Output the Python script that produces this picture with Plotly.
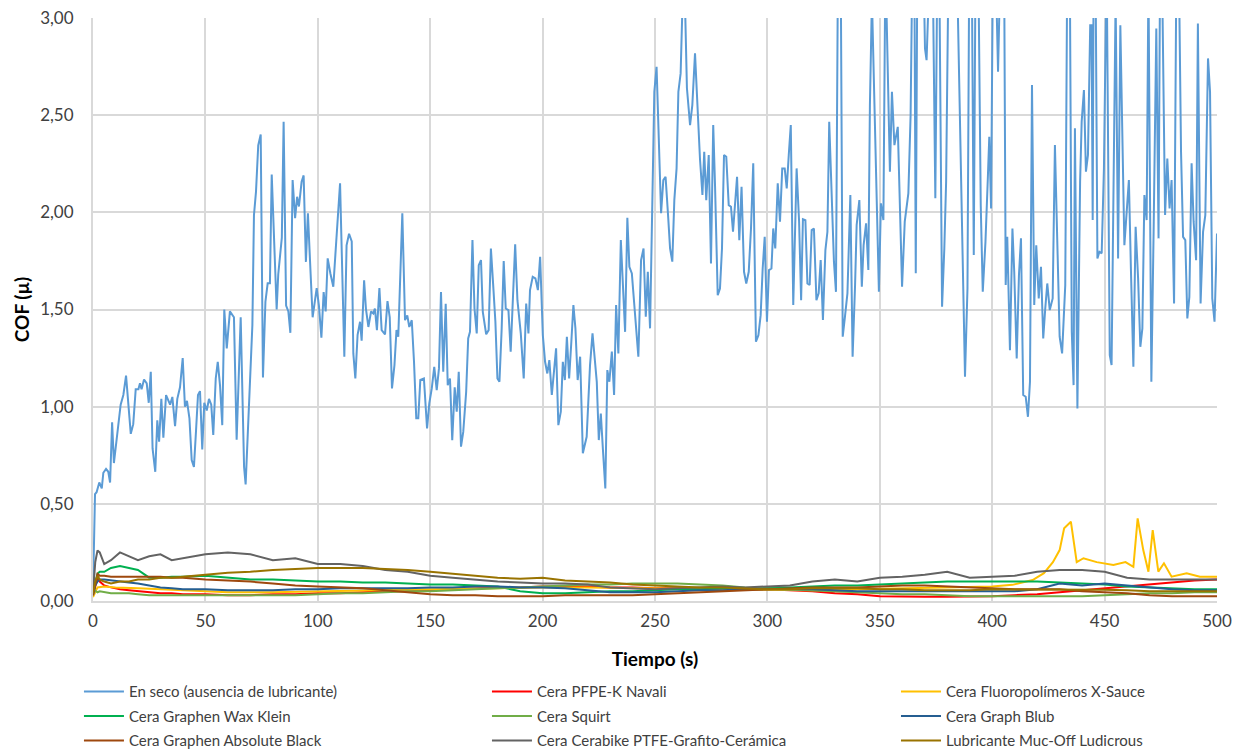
import plotly.graph_objects as go

# ---- Dry run (no lubricant) ----
t_seco = [0, 0.9, 1.6, 2.8, 3.9, 4.6, 5.8, 6.8, 7.6, 8.5, 9.3, 10.5, 12.3, 13.5, 14.7, 16.8, 17.9, 19.0, 20.2, 20.9,
          21.6, 22.7, 23.9, 24.8, 25.7, 26.5, 27.7, 28.6, 29.4, 30.4, 31.3, 32.5, 34.3, 35.3, 36.5, 37.5, 38.7, 39.9,
          40.9, 41.8, 42.9, 43.9, 44.9, 45.8, 46.7, 47.6, 48.6, 49.5, 50.6, 51.6, 52.6, 53.5, 54.6, 55.5, 56.5, 57.5,
          58.4, 59.5, 60.9, 62.7, 63.9, 65.7, 67.2, 67.9, 69.1, 69.8, 70.9, 71.6, 72.5, 73.5, 74.6, 75.6, 76.7, 77.7,
          78.7, 79.5, 80.5, 81.7, 82.4, 84.0, 84.8, 85.9, 86.9, 87.8, 88.8, 89.9, 90.8, 91.6, 92.8, 93.7, 94.7, 95.6,
          96.7, 97.7, 99.5, 100.5, 101.6, 102.6, 103.5, 104.4, 105.6, 106.9, 108.2, 109.9, 111.8, 112.8, 113.9, 115.1,
          115.8, 116.7, 117.7, 118.8, 119.5, 120.6, 121.4, 122.5, 123.7, 124.7, 125.4, 126.3, 127.4, 128.4, 129.9,
          131.0, 132.0, 133.0, 134.1, 135.0, 135.8, 137.6, 138.8, 139.8, 140.7, 141.8, 142.8, 143.8, 144.7, 145.6,
          147.2, 148.6, 149.6, 150.7, 151.8, 152.9, 153.9, 154.8, 155.8, 156.9, 157.8, 158.8, 159.8, 160.9, 161.8,
          162.7, 163.7, 164.7, 166.0, 166.9, 167.7, 168.8, 169.7, 170.7, 171.6, 172.6, 173.4, 174.9, 176.0, 177.0,
          178.1, 179.0, 179.9, 180.8, 181.8, 182.7, 183.6, 184.8, 185.8, 186.7, 187.8, 188.8, 190.3, 191.6, 192.7,
          193.7, 194.4, 195.6, 196.8, 197.9, 198.9, 200.1, 201.1, 202.1, 203.0, 204.1, 205.0, 206.0, 207.0, 208.1,
          209.0, 209.9, 210.8, 211.8, 212.7, 213.7, 214.6, 215.6, 216.7, 217.9, 219.6, 221.1, 222.2, 223.2, 224.1,
          225.0, 225.9, 226.8, 227.9, 228.8, 229.7, 230.8, 231.8, 232.7, 233.7, 234.8, 235.8, 236.7, 237.7, 238.6,
          239.7, 240.7, 241.6, 242.6, 243.8, 244.9, 245.9, 246.8, 247.8, 248.8, 249.7, 250.7, 251.8, 252.7, 253.7,
          254.7, 255.9, 256.7, 257.7, 258.6, 259.6, 260.4, 261.4, 262.3, 263.4, 264.2, 265.6, 266.6, 267.8, 269.0,
          270.0, 271.1, 271.9, 272.8, 273.9, 274.9, 275.9, 276.7, 277.9, 278.9, 279.8, 280.7, 281.7, 282.8, 283.8,
          284.7, 285.6, 286.5, 287.5, 288.5, 289.6, 290.6, 291.7, 292.7, 293.7, 294.9, 296.0, 297.0, 297.9, 298.8,
          299.8, 300.7, 301.8, 302.6, 303.5, 304.6, 305.6, 306.6, 307.7, 308.6, 309.5, 310.4, 311.5, 313.0, 314.1,
          315.0, 315.8, 316.9, 317.8, 318.8, 319.7, 320.7, 321.8, 322.8, 323.7, 324.7, 325.8, 326.7, 327.5, 328.6,
          329.6, 330.5, 331.4, 332.6, 333.5, 334.5, 335.6, 336.9, 337.9, 339.0, 339.7, 340.9, 342.0, 342.8, 343.9,
          344.9, 345.6, 346.5, 347.6, 348.6, 349.6, 350.5, 351.6, 352.5, 353.5, 354.5, 355.4, 356.5, 358.0, 359.0,
          359.9, 361.1, 362.7, 363.7, 364.6, 365.4, 366.0, 366.7, 369.7, 370.1, 370.8, 372.0, 373.5, 374.7, 375.6,
          376.5, 377.7, 378.7, 379.5, 380.5, 384.6, 387.9, 389.0, 389.8, 390.9, 391.8, 392.6, 393.8, 394.9, 395.8,
          397.0, 398.0, 398.7, 399.5, 400.2, 401.5, 402.6, 403.5, 405.4, 406.0, 406.7, 407.9, 409.0, 409.8, 410.9,
          411.9, 412.8, 413.8, 414.9, 415.9, 416.8, 417.7, 418.7, 419.6, 420.7, 421.7, 422.7, 423.6, 424.5, 425.6,
          426.9, 427.9, 429.0, 430.0, 431.1, 432.5, 433.4, 434.5, 435.4, 436.2, 436.8, 437.9, 439.1, 439.8, 440.8,
          441.7, 442.6, 443.6, 444.2, 444.7, 445.1, 446.0, 446.8, 447.7, 448.7, 449.7, 450.9, 452.3, 453.1, 454.0,
          454.9, 456.0, 457.0, 458.8, 459.8, 460.8, 461.7, 462.8, 463.8, 464.9, 465.9, 466.8, 467.7, 468.7, 469.5,
          470.8, 471.8, 473.0, 474.0, 474.6, 475.7, 476.9, 477.9, 478.9, 479.8, 480.9, 481.9, 483.1, 484.0, 484.9,
          485.9, 486.8, 487.7, 488.7, 489.6, 490.7, 491.5, 492.7, 493.8, 494.8, 496.0, 496.9, 497.9, 498.9, 500.0]
cof_seco = [0.05, 0.55, 0.56, 0.61, 0.58, 0.66, 0.68, 0.665, 0.61, 0.92, 0.71, 0.84, 1.01, 1.06, 1.16, 0.86, 0.91, 1.09,
            1.09, 1.12, 1.09, 1.14, 1.12, 1.02, 1.18, 0.785, 0.665, 0.93, 0.82, 1.04, 0.84, 1.06, 1.01, 1.05, 0.90,
            1.04, 1.10, 1.25, 1.00, 1.03, 0.94, 0.725, 0.69, 0.87, 1.06, 1.08, 0.78, 1.02, 0.98, 1.04, 1.01, 0.855,
            1.145, 1.23, 1.11, 0.905, 1.50, 1.30, 1.49, 1.46, 0.83, 1.46, 0.69, 0.60, 0.94, 1.20, 1.42, 1.985, 2.105,
            2.345, 2.40, 1.15, 1.54, 1.635, 1.635, 2.195, 1.90, 1.50, 1.68, 1.87, 2.466, 1.52, 1.49, 1.38, 2.166,
            1.97, 2.08, 2.03, 2.157, 2.19, 1.745, 1.995, 1.71, 1.46, 1.61, 1.52, 1.355, 1.59, 1.49, 1.763, 1.685,
            1.617, 1.85, 2.149, 1.257, 1.83, 1.89, 1.85, 1.274, 1.145, 1.37, 1.437, 1.34, 1.65, 1.505, 1.41, 1.49,
            1.48, 1.505, 1.394, 1.61, 1.394, 1.372, 1.543, 1.46, 1.094, 1.214, 1.394, 1.36, 1.995, 1.445, 1.47, 1.41,
            1.445, 1.231, 0.94, 0.94, 1.137, 1.145, 0.888, 1.017, 1.094, 1.205, 1.085, 1.197, 1.59, 1.18, 1.53, 1.11,
            1.145, 0.828, 1.10, 0.974, 1.18, 0.794, 0.87, 1.077, 1.351, 1.385, 1.857, 1.505, 1.377, 1.728, 1.754,
            1.488, 1.372, 1.394, 1.814, 1.61, 1.437, 1.145, 1.128, 1.403, 1.749, 1.505, 1.497, 1.283, 1.557, 1.835,
            1.548, 1.377, 1.145, 1.531, 1.377, 1.60, 1.668, 1.66, 1.60, 1.771, 1.368, 1.231, 1.171, 1.24, 1.06, 1.163,
            1.30, 0.905, 0.974, 1.231, 1.137, 1.36, 1.145, 1.317, 1.523, 1.403, 1.137, 1.257, 0.76, 0.845, 1.214,
            1.377, 1.231, 1.128, 0.828, 0.965, 0.785, 0.579, 1.188, 1.128, 1.283, 1.06, 1.523, 1.274, 1.857, 1.557,
            1.385, 1.972, 1.72, 1.686, 1.523, 1.428, 1.257, 1.754, 1.814, 1.463, 1.694, 1.403, 1.969, 2.62, 2.749,
            2.295, 1.995, 2.166, 2.183, 1.969, 1.814, 1.746, 2.063, 2.226, 2.62, 2.715, 3.10, 3.05, 2.64, 2.449, 2.552,
            2.818, 2.50, 2.277, 2.089, 2.312, 2.063, 2.295, 1.737, 2.449, 2.14, 1.574, 1.608, 1.814, 2.295, 2.286,
            2.037, 2.029, 1.90, 2.037, 2.183, 1.857, 2.132, 1.694, 1.634, 1.694, 1.917, 2.252, 1.334, 1.368, 1.471,
            1.711, 1.874, 1.437, 1.703, 1.711, 1.917, 1.814, 2.149, 1.952, 2.226, 2.226, 2.123, 2.295, 2.449, 1.523,
            2.226, 1.952, 1.548, 1.965, 1.96, 1.634, 1.626, 1.909, 1.917, 1.548, 1.583, 1.754, 1.446, 1.806, 1.90,
            2.466, 2.106, 1.746, 1.591, 3.30, 3.30, 1.36, 1.463, 1.583, 2.089, 1.257, 1.626, 1.934, 2.063, 1.617,
            1.831, 1.943, 1.703, 2.552, 3.10, 2.518, 2.037, 1.591, 2.046, 1.96, 3.30, 2.758, 2.209, 2.62, 2.346, 2.44,
            2.003, 1.617, 1.952, 2.097, 2.50, 3.40, 3.20, 1.686, 3.30, 3.10, 2.843, 2.783, 3.20, 3.30, 2.072, 3.30,
            3.20, 1.514, 1.814, 2.157, 3.20, 3.10, 1.154, 1.608, 3.30, 3.30, 1.78, 3.30, 3.30, 2.037, 1.591, 1.848,
            2.157, 2.389, 2.02, 3.10, 3.30, 2.723, 3.20, 3.05, 1.626, 1.874, 1.291, 1.917, 1.694, 1.248, 1.677, 1.866,
            1.06, 1.051, 0.948, 1.128, 2.655, 1.523, 1.831, 1.557, 1.72, 1.351, 1.505, 1.634, 1.497, 1.557, 2.346,
            1.754, 1.36, 1.274, 1.626, 3.30, 3.30, 1.385, 1.111, 2.432, 0.991, 2.157, 2.466, 2.629, 2.209, 2.295,
            2.963, 2.963, 1.96, 3.20, 3.20, 1.763, 1.797, 1.789, 2.226, 3.30, 1.265, 1.214, 2.192, 3.10, 1.763, 2.963,
            1.831, 1.986, 2.166, 1.711, 1.205, 1.926, 1.66, 1.308, 1.403, 2.089, 1.96, 3.20, 1.128, 1.90, 2.946,
            1.866, 3.10, 3.10, 1.986, 2.277, 2.02, 2.166, 1.531, 3.20, 3.20, 2.312, 1.874, 1.857, 1.454, 1.565, 2.252,
            1.952, 1.754, 2.972, 1.531, 1.90, 1.986, 2.792, 2.62, 1.557, 1.437, 1.891]

# ---- Lubricated runs (common time base) ----
t_lub = [0, 1, 2, 3, 5, 8, 12, 16, 20, 25, 30, 35, 40, 50, 60, 70, 80, 90, 100, 110, 120, 130, 140, 150, 160, 170,
         180, 190, 200, 210, 220, 230, 240, 250, 260, 270, 280, 290, 300, 310, 320, 330, 340, 350, 360, 370, 380,
         390, 400, 410, 420, 430, 440, 450, 460, 470, 480, 490, 500]

cof_pfpe = [0.03, 0.08, 0.12, 0.10, 0.08, 0.07, 0.06, 0.055, 0.05, 0.045, 0.04, 0.04, 0.035, 0.035, 0.03, 0.03, 0.035,
            0.035, 0.04, 0.04, 0.045, 0.05, 0.05, 0.055, 0.06, 0.065, 0.07, 0.07, 0.075, 0.075, 0.075, 0.07, 0.07,
            0.065, 0.065, 0.065, 0.065, 0.06, 0.06, 0.055, 0.05, 0.04, 0.035, 0.025, 0.022, 0.022, 0.022, 0.022,
            0.025, 0.03, 0.035, 0.045, 0.055, 0.065, 0.075, 0.085, 0.095, 0.105, 0.11]

cof_klein = [0.04, 0.10, 0.14, 0.15, 0.15, 0.17, 0.18, 0.17, 0.16, 0.12, 0.12, 0.125, 0.125, 0.13, 0.12, 0.11, 0.11,
             0.105, 0.10, 0.10, 0.095, 0.095, 0.09, 0.085, 0.085, 0.08, 0.075, 0.05, 0.04, 0.04, 0.045, 0.05, 0.05,
             0.055, 0.06, 0.06, 0.065, 0.065, 0.07, 0.07, 0.075, 0.08, 0.08, 0.085, 0.09, 0.095, 0.10, 0.10, 0.10,
             0.10, 0.10, 0.095, 0.09, 0.085, 0.075, 0.07, 0.065, 0.06, 0.06]

cof_squirt = [0.06, 0.05, 0.045, 0.05, 0.045, 0.04, 0.04, 0.04, 0.035, 0.03, 0.03, 0.03, 0.03, 0.03, 0.03, 0.03, 0.03,
              0.03, 0.035, 0.04, 0.04, 0.045, 0.05, 0.05, 0.055, 0.06, 0.065, 0.07, 0.075, 0.08, 0.085, 0.085, 0.09,
              0.09, 0.09, 0.085, 0.08, 0.07, 0.065, 0.06, 0.055, 0.05, 0.045, 0.04, 0.035, 0.035, 0.03, 0.025, 0.025,
              0.025, 0.025, 0.025, 0.025, 0.03, 0.035, 0.04, 0.04, 0.045, 0.045]

cof_blub = [0.03, 0.08, 0.10, 0.11, 0.11, 0.105, 0.10, 0.095, 0.09, 0.08, 0.07, 0.065, 0.06, 0.06, 0.055, 0.055, 0.055,
            0.06, 0.06, 0.065, 0.065, 0.065, 0.065, 0.07, 0.07, 0.075, 0.075, 0.07, 0.07, 0.065, 0.055, 0.045, 0.045,
            0.045, 0.05, 0.055, 0.055, 0.06, 0.06, 0.06, 0.06, 0.055, 0.05, 0.05, 0.05, 0.05, 0.05, 0.05, 0.05, 0.05,
            0.06, 0.09, 0.08, 0.09, 0.08, 0.07, 0.06, 0.055, 0.055]

cof_absolute = [0.03, 0.09, 0.14, 0.13, 0.13, 0.125, 0.125, 0.125, 0.125, 0.125, 0.125, 0.12, 0.12, 0.11, 0.105, 0.10,
                0.09, 0.08, 0.075, 0.07, 0.065, 0.055, 0.045, 0.035, 0.03, 0.03, 0.025, 0.025, 0.025, 0.03, 0.03,
                0.03, 0.03, 0.035, 0.04, 0.045, 0.05, 0.055, 0.06, 0.065, 0.07, 0.07, 0.07, 0.075, 0.08, 0.08, 0.075,
                0.07, 0.065, 0.06, 0.06, 0.06, 0.05, 0.045, 0.04, 0.03, 0.025, 0.025, 0.025]

cof_cerabike = [0.04, 0.20, 0.26, 0.25, 0.19, 0.21, 0.25, 0.23, 0.21, 0.23, 0.24, 0.21, 0.22, 0.24, 0.25, 0.24, 0.21,
                0.22, 0.19, 0.19, 0.18, 0.16, 0.15, 0.13, 0.12, 0.11, 0.10, 0.095, 0.09, 0.09, 0.085, 0.07, 0.065,
                0.06, 0.065, 0.07, 0.075, 0.07, 0.075, 0.08, 0.10, 0.11, 0.10, 0.12, 0.125, 0.135, 0.15, 0.12, 0.125,
                0.13, 0.15, 0.16, 0.16, 0.15, 0.12, 0.11, 0.11, 0.11, 0.11]

cof_ludicrous = [0.04, 0.10, 0.13, 0.11, 0.10, 0.09, 0.10, 0.10, 0.11, 0.11, 0.12, 0.12, 0.125, 0.135, 0.145, 0.15,
                 0.16, 0.165, 0.17, 0.17, 0.17, 0.165, 0.16, 0.15, 0.14, 0.13, 0.12, 0.115, 0.12, 0.105, 0.10, 0.095,
                 0.085, 0.08, 0.075, 0.07, 0.07, 0.065, 0.06, 0.06, 0.065, 0.065, 0.065, 0.06, 0.06, 0.055, 0.055,
                 0.055, 0.06, 0.06, 0.06, 0.058, 0.06, 0.058, 0.055, 0.05, 0.05, 0.05, 0.05]

# ---- X-Sauce (own time base, denser where it spikes) ----
t_xsauce = [0, 1, 2, 5, 10, 20, 30, 40, 50, 60, 80, 100, 120, 150, 180, 200, 220, 250, 280, 300, 320, 340, 360, 380,
            400, 409, 418, 423, 427, 430, 432, 435, 437.6, 440.6, 446.5, 453.9, 459.3, 462.8, 464.7, 467.2, 469.5,
            471.4, 473.9, 476.4, 479.8, 486.5, 492.4, 500]
cof_xsauce = [0.02, 0.05, 0.07, 0.075, 0.07, 0.065, 0.06, 0.055, 0.05, 0.045, 0.045, 0.05, 0.055, 0.06, 0.065, 0.07,
              0.07, 0.065, 0.06, 0.06, 0.055, 0.06, 0.065, 0.07, 0.075, 0.083, 0.108, 0.143, 0.20, 0.262, 0.374,
              0.408, 0.20, 0.22, 0.20, 0.185, 0.20, 0.176, 0.425, 0.262, 0.151, 0.365, 0.151, 0.194, 0.125, 0.143,
              0.125, 0.125]

# (name, time, COF, colour, legend column)
series = [
    ("En seco (ausencia de lubricante)", t_seco, cof_seco, "#5B9BD5", "legend"),
    ("Cera PFPE-K Navali", t_lub, cof_pfpe, "#FF0000", "legend2"),
    ("Cera Fluoropolímeros X-Sauce", t_xsauce, cof_xsauce, "#FFC000", "legend3"),
    ("Cera Graphen Wax Klein", t_lub, cof_klein, "#00B050", "legend"),
    ("Cera Squirt", t_lub, cof_squirt, "#70AD47", "legend2"),
    ("Cera Graph Blub", t_lub, cof_blub, "#255E91", "legend3"),
    ("Cera Graphen Absolute Black", t_lub, cof_absolute, "#9E480E", "legend"),
    ("Cera Cerabike PTFE-Grafito-Cerámica", t_lub, cof_cerabike, "#636363", "legend2"),
    ("Lubricante Muc-Off Ludicrous", t_lub, cof_ludicrous, "#997300", "legend3"),
]

FONT = "Lato, Liberation Sans, sans-serif"

fig = go.Figure()
for i, (name, tx, ty, col, leg) in enumerate(series):
    fig.add_trace(go.Scatter(x=tx, y=ty, name=name, mode="lines", legend=leg,
                             legendgroup=f"g{i}", line=dict(color=col, width=2)))


def legend_column(xpos):
    # one vertical legend per column below the plot area
    return dict(
        orientation="v",
        xref="paper", yref="container",
        x=xpos, y=0.102, xanchor="left", yanchor="top",
        font=dict(size=15, family=FONT, color="#404040"),
        tracegroupgap=2, itemwidth=40,
        traceorder="grouped",
        bgcolor="rgba(0,0,0,0)",
    )


fig.update_layout(
    width=1239, height=752,
    margin=dict(l=93, r=22, t=18, b=151),
    paper_bgcolor="white", plot_bgcolor="white",
    separators=",.",
    font=dict(family=FONT, color="#404040"),
    showlegend=True,
    legend=legend_column(-0.0125),
    legend2=legend_column(0.3505),
    legend3=legend_column(0.7144),
)
fig.update_xaxes(
    range=[0, 500], tick0=0, dtick=50, automargin=False,
    showgrid=True, gridcolor="#D9D9D9", gridwidth=2,
    showline=True, linecolor="#D9D9D9", linewidth=2,
    zeroline=False, ticks="", ticklabelstandoff=4,
    tickfont=dict(size=17, color="#404040"),
    title=dict(text="<b>Tiempo (s)</b>", font=dict(size=19, color="#000000"), standoff=22),
)
fig.update_yaxes(
    range=[0, 3], tick0=0, dtick=0.5, tickformat=".2f", automargin=False,
    showgrid=True, gridcolor="#D9D9D9", gridwidth=2,
    showline=True, linecolor="#D9D9D9", linewidth=2,
    zeroline=False, ticks="", ticklabelstandoff=14,
    tickfont=dict(size=17, color="#404040"),
    title=dict(text="<b>COF (µ)</b>", font=dict(size=19, color="#000000"), standoff=5),
)

fig.write_html("out.html")
